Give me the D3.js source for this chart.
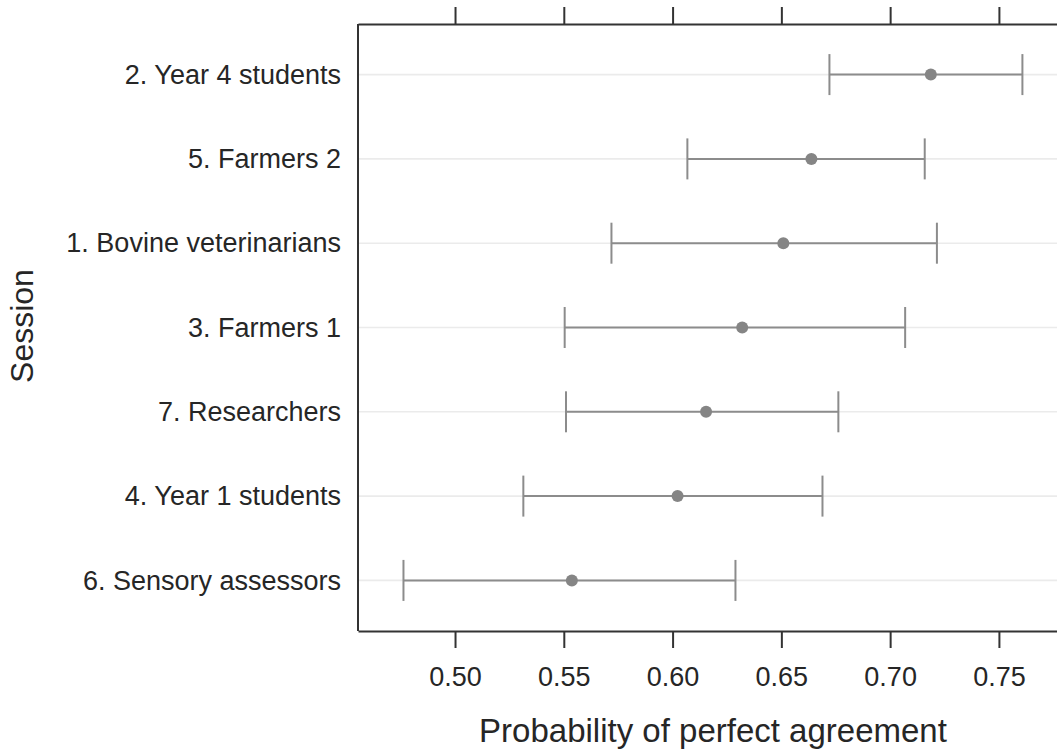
<!DOCTYPE html>
<html>
<head>
<meta charset="utf-8">
<script src="https://cdn.jsdelivr.net/npm/d3@7"></script>
<style>
  body { margin: 0; background: #fff; }
  svg text { font-family: "Liberation Sans", Arial, sans-serif; fill: #262626; }
</style>
</head>
<body>
<svg id="chart"></svg>
<script>
// session estimates, top to bottom
const sessions = ['2. Year 4 students', '5. Farmers 2', '1. Bovine veterinarians',
    '3. Farmers 1', '7. Researchers', '4. Year 1 students', '6. Sensory assessors'];
const estimate = [0.7187, 0.6638, 0.6509, 0.6320, 0.6154, 0.6023, 0.5537];
const lower    = [0.6721, 0.6068, 0.5719, 0.5504, 0.5510, 0.5314, 0.4763];
const upper    = [0.7608, 0.7159, 0.7215, 0.7069, 0.6762, 0.6689, 0.6289];
const xTicks   = [0.50, 0.55, 0.60, 0.65, 0.70, 0.75];

const width = 1057, height = 750;
const margin = {top: 24, right: 0, bottom: 119, left: 358};

const svg = d3.select('#chart')
    .attr('width', width)
    .attr('height', height);

const x = d3.scaleLinear()
    .domain([0.4554, 0.7767])
    .range([margin.left, width - margin.right]);

const y = d3.scalePoint()
    .domain(sessions)
    .range([margin.top, height - margin.bottom])
    .padding(0.6);

const rows = sessions.map((s, i) => ({s, est: estimate[i], lo: lower[i], hi: upper[i]}));

// grid lines
svg.append('g')
    .selectAll('line')
    .data(sessions)
    .join('line')
    .attr('x1', margin.left).attr('x2', width)
    .attr('y1', d => y(d)).attr('y2', d => y(d))
    .attr('stroke', '#ebebeb')
    .attr('stroke-width', 1.6);

// error bars
const bars = svg.append('g').attr('stroke', '#8c8c8c').attr('stroke-width', 2);
bars.selectAll('line.h')
    .data(rows)
    .join('line')
    .attr('class', 'h')
    .attr('x1', d => x(d.lo)).attr('x2', d => x(d.hi))
    .attr('y1', d => y(d.s)).attr('y2', d => y(d.s));
bars.selectAll('line.lo')
    .data(rows)
    .join('line')
    .attr('class', 'lo')
    .attr('x1', d => x(d.lo)).attr('x2', d => x(d.lo))
    .attr('y1', d => y(d.s) - 20.5).attr('y2', d => y(d.s) + 20.5);
bars.selectAll('line.hi')
    .data(rows)
    .join('line')
    .attr('class', 'hi')
    .attr('x1', d => x(d.hi)).attr('x2', d => x(d.hi))
    .attr('y1', d => y(d.s) - 20.5).attr('y2', d => y(d.s) + 20.5);

// points
svg.append('g')
    .selectAll('circle')
    .data(rows)
    .join('circle')
    .attr('cx', d => x(d.est))
    .attr('cy', d => y(d.s))
    .attr('r', 6)
    .attr('fill', '#858585');

// axes
const xBottom = svg.append('g')
    .attr('transform', `translate(0,${height - margin.bottom})`)
    .call(d3.axisBottom(x).tickValues(xTicks).tickFormat(d3.format('.2f')).tickSize(17).tickSizeOuter(0));
const xTop = svg.append('g')
    .attr('transform', `translate(0,${margin.top})`)
    .call(d3.axisTop(x).tickValues(xTicks).tickFormat('').tickSize(17).tickSizeOuter(0));
const yLeft = svg.append('g')
    .attr('transform', `translate(${margin.left},0)`)
    .call(d3.axisLeft(y).tickSize(0).tickPadding(17).tickSizeOuter(0));

[xBottom, xTop, yLeft].forEach(g => {
    g.selectAll('path.domain').attr('stroke', '#333').attr('stroke-width', 2);
    g.selectAll('.tick line').attr('stroke', '#333').attr('stroke-width', 2);
    g.selectAll('.tick text').attr('font-size', 27).attr('fill', '#262626')
        .style('font-family', '"Liberation Sans", Arial, sans-serif');
});
// left axis domain should cover full panel height
yLeft.select('path.domain').attr('d', `M0,${margin.top}V${height - margin.bottom}`);
xBottom.selectAll('.tick text').attr('dy', 0).attr('y', 55);

// titles
svg.append('text')
    .attr('x', 713)
    .attr('y', 742)
    .attr('text-anchor', 'middle')
    .attr('font-size', 33)
    .text('Probability of perfect agreement');

svg.append('text')
    .attr('transform', 'translate(33,326) rotate(-90)')
    .attr('text-anchor', 'middle')
    .attr('font-size', 32)
    .text('Session');
</script>
</body>
</html>
